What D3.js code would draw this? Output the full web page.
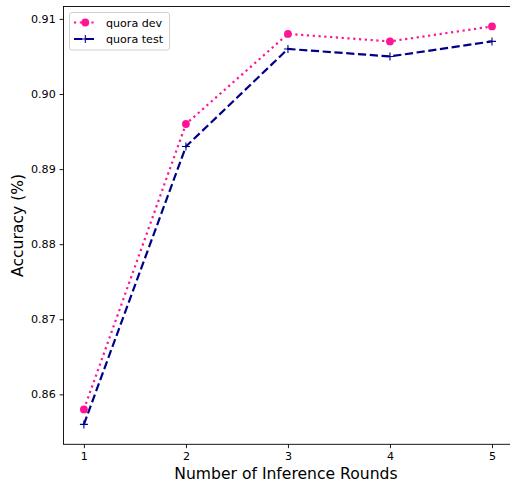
<!DOCTYPE html>
<html>
<head>
<meta charset="utf-8">
<script src="https://cdn.jsdelivr.net/npm/d3@7"></script>
<style>
  html, body { margin: 0; padding: 0; background: #fff; }
  svg { display: block; font-family: "DejaVu Sans", sans-serif; }
</style>
</head>
<body>
<div id="chart"></div>
<script>
// ── data ───────────────────────────────────────────────
const rounds    = [1, 2, 3, 4, 5];
const quoraDev  = [0.858, 0.896, 0.908, 0.907, 0.909];
const quoraTest = [0.856, 0.893, 0.906, 0.905, 0.907];
const yTicks    = [0.86, 0.87, 0.88, 0.89, 0.90, 0.91];

const W = 510, H = 483;
const AX = { left: 63.5, top: 6.5, right: 512.4, bottom: 444.3 };
const DEV_C  = "#ff1493";
const TEST_C = "#00008b";
const DOT_R  = 3.9;
const PLUS_R = 4;

const svg = d3.select("#chart").append("svg").attr("width", W).attr("height", H);

// matplotlib-like 5% margins
const x = d3.scaleLinear().domain([0.8, 5.2]).range([AX.left, AX.right]);
const y = d3.scaleLinear().domain([0.85335, 0.91165]).range([AX.bottom, AX.top]);

// Axes
svg.append("g").attr("transform", `translate(0,${AX.bottom})`)
  .call(d3.axisBottom(x).tickValues(rounds).tickFormat(d3.format("d")).tickSize(3.9).tickPadding(3.9))
  .call(ax => ax.select(".domain").remove())
  .call(ax => ax.selectAll("line").attr("stroke", "#000").attr("stroke-width", 0.9))
  .call(ax => ax.selectAll("text").attr("fill", "#000").attr("font-size", 11.1)
    .attr("font-family", "DejaVu Sans"));

svg.append("g").attr("transform", `translate(${AX.left},0)`)
  .call(d3.axisLeft(y).tickValues(yTicks).tickFormat(d3.format(".2f")).tickSize(3.9).tickPadding(3.9))
  .call(ax => ax.select(".domain").remove())
  .call(ax => ax.selectAll("line").attr("stroke", "#000").attr("stroke-width", 0.9))
  .call(ax => ax.selectAll("text").attr("fill", "#000").attr("font-size", 11.1)
    .attr("font-family", "DejaVu Sans"));

// Lines
const line = d3.line().x((d, i) => x(rounds[i])).y(d => y(d));

function plusPath(cx, cy, r) {
  return `M${cx - r},${cy}H${cx + r}M${cx},${cy - r}V${cy + r}`;
}

svg.append("path").datum(quoraTest)
  .attr("d", line).attr("fill", "none").attr("stroke", TEST_C)
  .attr("stroke-width", 2.2).attr("stroke-dasharray", "8.2,3.6");

svg.selectAll(".plus").data(quoraTest).join("path")
  .attr("class", "plus")
  .attr("d", (d, i) => plusPath(x(rounds[i]), y(d), PLUS_R))
  .attr("stroke", TEST_C).attr("stroke-width", 1.1).attr("fill", "none");

svg.append("path").datum(quoraDev)
  .attr("d", line).attr("fill", "none").attr("stroke", DEV_C)
  .attr("stroke-width", 2.2).attr("stroke-dasharray", "2.2,3.6");

svg.selectAll(".dot").data(quoraDev).join("circle")
  .attr("class", "dot")
  .attr("cx", (d, i) => x(rounds[i])).attr("cy", d => y(d)).attr("r", DOT_R)
  .attr("fill", DEV_C);

// Spines
svg.append("rect")
  .attr("x", AX.left).attr("y", AX.top)
  .attr("width", AX.right - AX.left).attr("height", AX.bottom - AX.top)
  .attr("fill", "none").attr("stroke", "#000").attr("stroke-width", 0.9);

// Axis labels
svg.append("text").attr("x", (AX.left + AX.right) / 2 - 2).attr("y", 479)
  .attr("text-anchor", "middle").attr("font-size", 15.6).text("Number of Inference Rounds");

svg.append("text").attr("transform", `translate(23,${(AX.top + AX.bottom) / 2}) rotate(-90)`)
  .attr("text-anchor", "middle").attr("font-size", 15.6).text("Accuracy (%)");

// Legend
const leg = svg.append("g");
leg.append("rect").attr("x", 69.5).attr("y", 12.5).attr("width", 100).attr("height", 37.5)
  .attr("rx", 2.5).attr("fill", "#fff").attr("fill-opacity", 0.8)
  .attr("stroke", "#cccccc").attr("stroke-width", 0.9);

const entries = [
  { label: "quora dev",  color: DEV_C,  dash: "2.2,3.6", mark: "o", yy: 22.5 },
  { label: "quora test", color: TEST_C, dash: "8.2,3.6", mark: "+", yy: 39 },
];
entries.forEach(e => {
  leg.append("line").attr("x1", 74).attr("x2", 96.5).attr("y1", e.yy).attr("y2", e.yy)
    .attr("stroke", e.color).attr("stroke-width", 2.2).attr("stroke-dasharray", e.dash);
  if (e.mark === "o") {
    leg.append("circle").attr("cx", 85.3).attr("cy", e.yy).attr("r", DOT_R).attr("fill", e.color);
  } else {
    leg.append("path").attr("d", plusPath(85.3, e.yy, PLUS_R))
      .attr("stroke", e.color).attr("stroke-width", 1.1);
  }
  leg.append("text").attr("x", 106).attr("y", e.yy + 4).attr("font-size", 11.1).text(e.label);
});
</script>
</body>
</html>
